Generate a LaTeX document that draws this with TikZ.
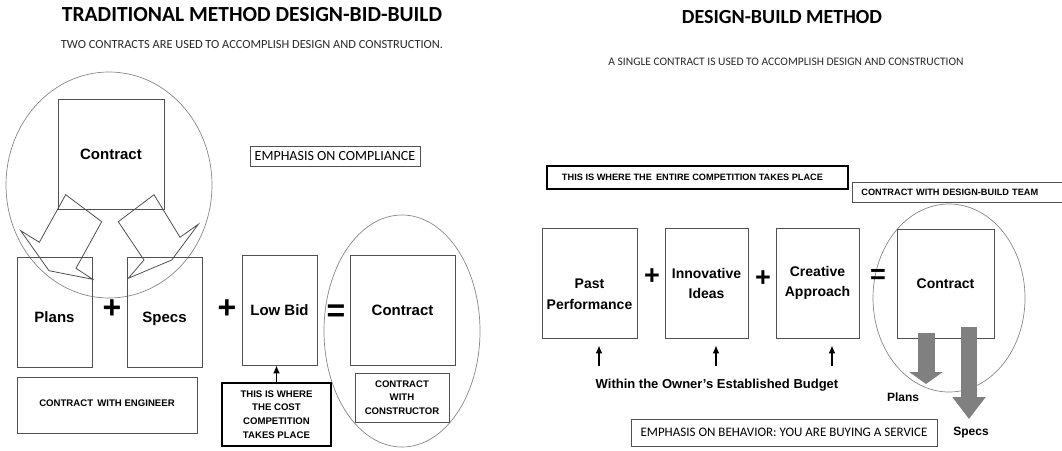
\documentclass[tikz,border=0pt]{standalone}
\usepackage{fontspec}
\setmainfont{Carlito}
\newfontfamily\arialfont{Liberation Sans}
\usepackage{tikz}
\usetikzlibrary{shapes, arrows, arrows.meta, calc}

\definecolor{boxline}{RGB}{80,80,80}
\definecolor{ringline}{RGB}{135,135,135}
\definecolor{fatgray}{RGB}{128,128,128}
\definecolor{subtext}{RGB}{40,40,40}

\begin{document}
\begin{tikzpicture}[x=1pt, y=-1pt]

\tikzstyle{connector} = [draw, -{Latex[length=8pt, width=7pt]}, line width=1.5pt]
\tikzstyle{fatarrow} = [draw=fatgray, line width=17pt, -{Triangle[width=33pt, length=12pt]}]
\tikzstyle{block} = [rectangle, draw=boxline, line width=0.8pt, inner sep=0pt, text centered, font=\arialfont\bfseries\fontsize{15}{17}\selectfont]
\tikzstyle{smallblock} = [rectangle, draw=boxline, line width=0.8pt, inner sep=0pt, align=center, font=\arialfont\bfseries\fontsize{9.6}{13.7}\selectfont]
\tikzstyle{callout} = [smallblock, draw=black, line width=2.4pt]
\tikzstyle{remark} = [rectangle, draw=boxline, line width=0.8pt, inner sep=0pt, font=\fontsize{13}{15}\selectfont]
\tikzstyle{ring} = [ellipse, draw=ringline, line width=0.7pt, inner sep=0pt]
\tikzstyle{sign} = [font=\arialfont\bfseries\fontsize{32}{32}\selectfont, inner sep=0pt]
\tikzstyle{heading} = [font=\bfseries\fontsize{20}{24}\selectfont]
\tikzstyle{subheading} = [text=subtext, font=\fontsize{11.5}{14}\selectfont]
\tikzstyle{hollow} = [draw=boxline, line width=0.8pt, line join=miter]

\useasboundingbox (0,0) rectangle (1062,450);

% design-bid-build
\node at (252,15) [heading, font=\bfseries\fontsize{21.5}{24}\selectfont] (title_dbb) {TRADITIONAL METHOD DESIGN-BID-BUILD};
\node at (252,45) [subheading, font=\fontsize{12.4}{14}\selectfont] (sub_dbb) {TWO CONTRACTS ARE USED TO ACCOMPLISH DESIGN AND CONSTRUCTION.};

\node at (109,185) [ring, minimum width=206, minimum height=226] (ring_eng) {};
\node at (111,154) [block, minimum width=106, minimum height=110] (contract_eng) {Contract};
\node at (54.5,312) [block, minimum width=75, minimum height=110, text height=21pt, text depth=1pt] (plans) {Plans\hspace{9pt}};
\node at (164.5,312) [block, minimum width=75, minimum height=110, text height=21pt, text depth=1pt] (specs) {Specs};
\node at (279.5,310) [block, minimum width=75, minimum height=110] (low_bid) {Low Bid};
\node at (402,331) [ring, minimum width=156, minimum height=232] (ring_con) {};
\node at (402.5,310) [block, minimum width=105, minimum height=110] (contract_con) {Contract};

\node at (112,309) [sign] (plus_a) {+};
\node at (227,309) [sign] (plus_b) {+};
\node at (336,313) [sign] (equals_a) {=};

\node at (107,405) [smallblock, minimum width=180, minimum height=56, text height=10pt, text depth=8pt] (with_eng) {CONTRACT\, WITH ENGINEER};
\node at (402,397.5) [smallblock, minimum width=94, minimum height=49] (with_con) {CONTRACT\\WITH\\CONSTRUCTOR};
\node at (276.5,414.5) [callout, minimum width=109, minimum height=63] (cost) {THIS IS WHERE\\THE COST\\COMPETITION\\TAKES PLACE};
\node at (335,156) [remark, minimum width=170, minimum height=20, font=\fontsize{14}{15}\selectfont] (compliance) {EMPHASIS ON COMPLIANCE};

\draw [hollow] (65.7,194.7) -- (101.7,221.7) -- (76,268.3) -- (92.7,279.3) -- (49,270.7) -- (20.7,230.7) -- (39.3,242.3) -- cycle;
\draw [hollow] (154,194.7) -- (118.3,221.7) -- (144,260) -- (128.3,278.3) -- (171.7,260) -- (198.3,224.3) -- (180,237.3) -- cycle;

\path [connector] (cost.north) -- (cost.north |- low_bid.south);

% design-build
\node at (782,17) [heading] (title_db) {DESIGN-BUILD METHOD};
\node at (786,62) [subheading] (sub_db) {A SINGLE CONTRACT IS USED TO ACCOMPLISH DESIGN AND CONSTRUCTION};

\node at (697.5,177.5) [callout, minimum width=301, minimum height=23, font=\arialfont\bfseries\fontsize{9.2}{11}\selectfont] (entire) {THIS IS WHERE THE\, ENTIRE COMPETITION TAKES PLACE\hspace{10pt}};
\node at (852,192) [smallblock, anchor=west, text width=200, align=left, inner xsep=9pt, minimum height=20, font=\arialfont\bfseries\fontsize{9.2}{11}\selectfont] (team) {CONTRACT WITH DESIGN-BUILD TEAM};

\node at (589.5,283) [block, minimum width=95, minimum height=110, align=center, font=\arialfont\bfseries\fontsize{14}{21}\selectfont] (past) {\rule{0pt}{33pt}Past\\Performance};
\node at (706.5,283) [block, minimum width=83, minimum height=110, align=center, font=\arialfont\bfseries\fontsize{14}{20}\selectfont] (ideas) {Innovative\\Ideas};
\node at (817.5,283) [block, minimum width=83, minimum height=110, align=center, font=\arialfont\bfseries\fontsize{14}{20}\selectfont] (approach) {Creative\\Approach};
\node at (949,298) [ring, minimum width=152, minimum height=188] (ring_db) {};
\node at (945.5,283.5) [block, minimum width=97, minimum height=109, font=\arialfont\bfseries\fontsize{14}{17}\selectfont] (contract_db) {Contract};

\node at (652,277) [sign, font=\arialfont\bfseries\fontsize{27}{27}\selectfont] (plus_c) {+};
\node at (763,279) [sign, font=\arialfont\bfseries\fontsize{27}{27}\selectfont] (plus_d) {+};
\node at (878,276) [sign, font=\arialfont\bfseries\fontsize{27}{27}\selectfont] (equals_b) {=};

\node at (717,385) [font=\arialfont\bfseries\fontsize{13}{15}\selectfont] (budget) {Within the Owner’s Established Budget};
\coordinate (lift_a) at (599,366);
\coordinate (lift_b) at (716,366);
\coordinate (lift_c) at (832,366);
\path [connector, shorten >=7pt] (lift_a) -- (lift_a |- past.south);
\path [connector, shorten >=7pt] (lift_b) -- (lift_b |- ideas.south);
\path [connector, shorten >=7pt] (lift_c) -- (lift_c |- approach.south);

\coordinate (plans_tip) at (926,384);
\coordinate (specs_tip) at (969,419);
\draw [fatarrow] ($(contract_db.south -| plans_tip)+(0,-5)$) -- (plans_tip);
\draw [fatarrow, line width=16pt, -{Triangle[width=32pt, length=22pt]}] ($(contract_db.south -| specs_tip)+(0,-11)$) -- (specs_tip);
\node at (903,397) [font=\arialfont\bfseries\fontsize{12}{14}\selectfont] (plans_out) {Plans};
\node at (971,433) [font=\arialfont\bfseries\fontsize{12}{14}\selectfont] (specs_out) {Specs};

\node at (784,432.5) [remark, minimum width=306, minimum height=27] (behavior) {EMPHASIS ON BEHAVIOR: YOU ARE BUYING A SERVICE};

\end{tikzpicture}
\end{document}
